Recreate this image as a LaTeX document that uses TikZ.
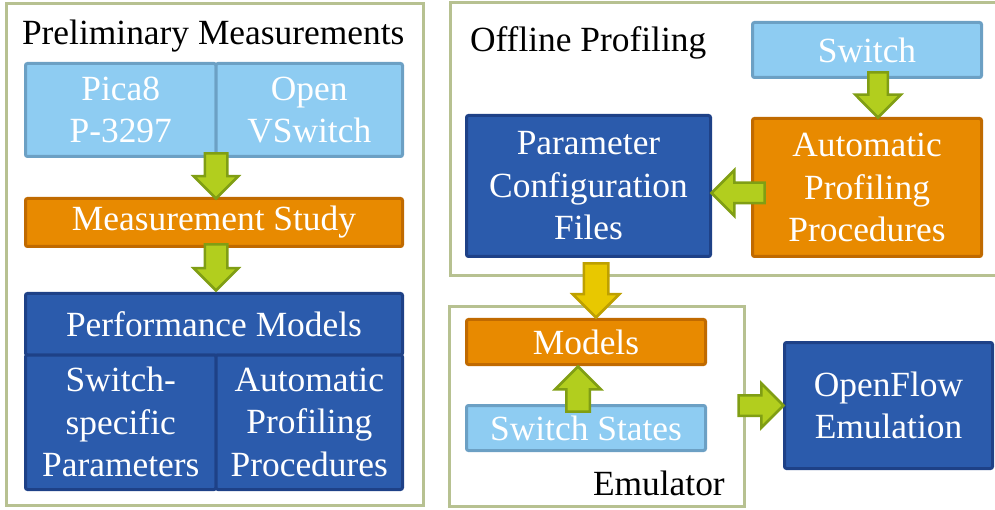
\documentclass[tikz,border=0pt]{standalone}
\usepackage{fontspec}
\setmainfont{Liberation Serif}
\usetikzlibrary{shapes.arrows,calc}
\definecolor{lbfill}{RGB}{142,204,242}
\definecolor{lbline}{RGB}{108,160,196}
\definecolor{orfill}{RGB}{232,138,0}
\definecolor{orline}{RGB}{192,106,0}
\definecolor{dbfill}{RGB}{43,91,172}
\definecolor{dbline}{RGB}{30,65,135}
\definecolor{grfill}{RGB}{178,206,30}
\definecolor{grline}{RGB}{128,158,20}
\definecolor{yefill}{RGB}{232,200,0}
\definecolor{yeline}{RGB}{190,160,0}
\definecolor{contc}{RGB}{183,193,145}
\begin{document}
\begin{tikzpicture}[x=1pt,y=-1pt,
  every node/.style={font=\fontsize{35.4}{42.5}\selectfont, outer sep=0pt},
  cont/.style={draw=contc, line width=3pt},
  box/.style={rectangle, rounded corners=2pt, line width=3pt, text=white, align=center, anchor=north west, inner sep=0pt},
  lbox/.style={box, fill=lbfill, draw=lbline},
  obox/.style={box, fill=orfill, draw=orline},
  dbox/.style={box, fill=dbfill, draw=dbline},
  barrow/.style={single arrow, draw=grline, fill=grfill, line width=2.5pt, minimum width=0pt, inner xsep=0pt, single arrow tip angle=90, single arrow head indent=0pt, anchor=tip},
  yarrow/.style={barrow, draw=yeline, fill=yefill},
  title/.style={anchor=base west, inner sep=0pt, text=black}]
\useasboundingbox (0,0) rectangle (995,510);
\clip (0,0) rectangle (995,510);

% containers
\draw[cont] (6.5,3.5) rectangle (423.5,505.5);
\draw[cont] (450.5,2.5) rectangle (1010,275.5);
\draw[cont] (449.5,306.5) rectangle (744.5,506.5);

% titles
\node[title] (tpre) at (22,45) {Preliminary Measurements};
\node[title] (toff) at (470,52) {Offline Profiling};
\node[title] (temu) at (593,495) {Emulator};

% left column
\node[lbox, minimum width=190.5, minimum height=93] (pica) at (25.5,63.5) {Pica8\\P-3297};
\node[lbox, minimum width=186.5, minimum height=93] (ovs) at (216,63.5) {Open\\VSwitch};
\node[obox, minimum width=377, minimum height=48] (ms) at (25.5,198.5) {Measurement Study};
\node[dbox, minimum width=377, minimum height=61.5] (perf) at (25.5,293.5) {Performance Models};
\node[dbox, minimum width=190.5, minimum height=134.5] (ssp) at (25.5,355) {Switch-\\specific\\Parameters};
\node[dbox, minimum width=186.5, minimum height=134.5] (app) at (216,355) {Automatic\\Profiling\\Procedures};

% offline profiling
\node[lbox, minimum width=229, minimum height=55] (sw) at (752.5,22.5) {Switch};
\node[obox, minimum width=229, minimum height=138] (auto) at (752.5,118.5) {Automatic\\Profiling\\Procedures};
\node[dbox, minimum width=244, minimum height=141] (param) at (466.5,115.5) {Parameter\\Configuration\\Files};

% emulator
\node[obox, minimum width=239, minimum height=45] (models) at (466.5,319.5) {Models};
\node[lbox, minimum width=239, minimum height=45] (states) at (466.5,405.5) {Switch States};
\node[dbox, minimum width=208, minimum height=126] (of) at (784.5,342.5) {OpenFlow\\Emulation};

% block arrows
\node[barrow, rotate=-90, minimum height=45, inner ysep=10, single arrow head extend=11] (a1) at ($(ms.north)+(2,0)$) {};
\node[barrow, rotate=-90, minimum height=46, inner ysep=10, single arrow head extend=11] (a2) at ($(perf.north)+(2,-3)$) {};
\node[barrow, rotate=-90, minimum height=45, inner ysep=8.5, single arrow head extend=13] (a3) at ($(auto.north)+(11,-1)$) {};
\node[barrow, rotate=180, minimum height=53, inner ysep=9, single arrow head extend=12.5] (a4) at ($(param.east)+(1,7)$) {};
\node[yarrow, rotate=-90, minimum height=54, inner ysep=11, single arrow head extend=11] (a5) at ($(models.north)+(10,-2)$) {};
\node[barrow, rotate=90, minimum height=45, inner ysep=10.5, single arrow head extend=11] (a6) at ($(models.south)+(-8,2)$) {};
\node[barrow, minimum height=45, inner ysep=9, single arrow head extend=12] (a7) at ($(of.west)+(-1,0)$) {};
\end{tikzpicture}
\end{document}
